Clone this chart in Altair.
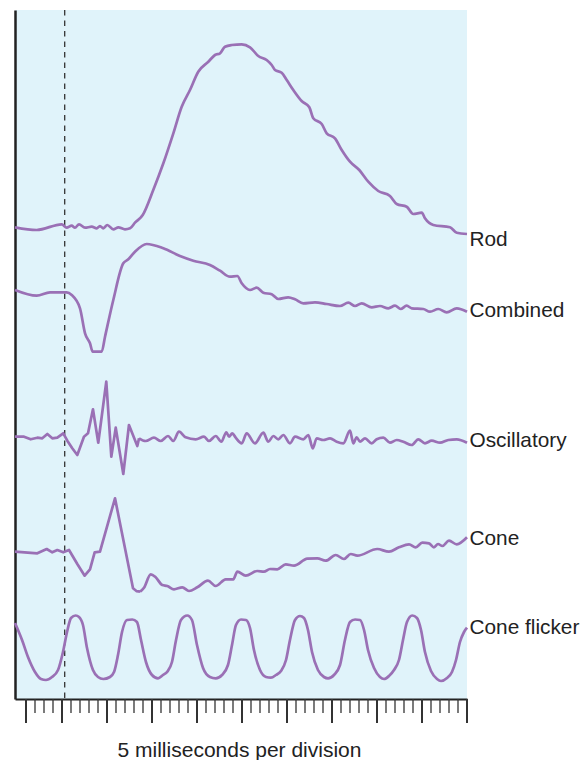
import altair as alt
import pandas as pd

# time in ms (1 division = 5 ms), amplitude in arbitrary display units
rod = [(-5.22, 471.7), (-2.81, 469), (-0.03, 474.7), (0.52, 471.3), (1.08, 473.3), (1.44, 471.3),
       (1.89, 474.7), (2.56, 471.3), (3.3, 472.3), (3.86, 470.7), (4.22, 473), (4.59, 470.7),
       (5.03, 474), (5.7, 469.7), (6.26, 471.7), (7.0, 469.7), (7.56, 470.7), (8.11, 476.3),
       (8.97, 484), (10.14, 509), (11.26, 535.7), (12.37, 565.7), (13.3, 592.3), (14.22, 609),
       (15.14, 627.3), (16.26, 637.3), (17.0, 644), (17.56, 645.7), (18.11, 652.3), (18.86, 654),
       (19.97, 654.7), (20.89, 651.7), (21.81, 643), (22.74, 639), (23.3, 634), (23.67, 629),
       (24.41, 626.3), (24.97, 619), (25.7, 609), (26.63, 598), (27.48, 591.7), (27.92, 580.7),
       (28.86, 575), (29.41, 565.7), (30.33, 560.7), (31.08, 549), (32.0, 537.3), (33.03, 529),
       (34.03, 517.3), (35.14, 508), (36.44, 503), (37.19, 495), (38.3, 492.3), (39.03, 485),
       (39.97, 486.3), (40.33, 480.7), (41.26, 474), (43.11, 471.7), (43.86, 466.3), (45.0, 465)]

combined = [(-5.22, 409), (-2.81, 403.3), (-1.33, 406.7), (0.52, 406.7), (1.08, 404), (2.0, 390.7),
            (2.56, 365.7), (3.11, 355.7), (3.41, 347.3), (4.41, 347.3), (4.78, 362.3), (5.7, 399),
            (6.81, 435.7), (7.37, 439.7), (8.11, 447.3), (9.41, 455), (11.26, 450.7), (13.11, 443),
            (14.59, 438.3), (16.44, 434), (17.56, 428.3), (18.67, 422.3), (19.48, 423), (19.97, 415.7),
            (20.89, 409), (21.63, 411.3), (22.37, 406.3), (23.3, 404.7), (24.03, 400), (25.14, 401.7),
            (25.89, 399.7), (26.81, 395.7), (28.11, 396.7), (29.41, 395), (30.89, 393), (31.81, 396.3),
            (32.56, 393), (33.3, 395.7), (34.41, 391.7), (35.33, 393), (36.26, 390.7), (37.0, 393.3),
            (37.63, 390), (38.3, 393.3), (38.86, 390.7), (40.14, 390), (40.89, 387.3), (41.81, 390),
            (42.74, 386.7), (43.86, 390.7), (45.0, 387.3)]

oscillatory = [(-5.22, 262.3), (-4.22, 262.3), (-3.48, 259.7), (-2.74, 261.3), (-2.19, 260.7),
               (-1.63, 265), (-1.08, 260.7), (-0.52, 261.3), (0.14, 265.7), (0.59, 258.3),
               (1.14, 250.7), (1.7, 244), (2.44, 262.3), (2.89, 265.7), (3.44, 289.7), (4.03, 256.3),
               (4.92, 317.3), (5.48, 242.3), (5.97, 271.3), (6.81, 225), (7.44, 274), (8.37, 253),
               (8.56, 260.7), (9.3, 258), (10.22, 261.3), (10.97, 258), (11.78, 263), (12.37, 258),
               (13.0, 267.3), (13.74, 261.7), (14.86, 259.7), (15.78, 262.3), (16.33, 258), (17.08, 263),
               (17.7, 257.3), (18.26, 266.7), (18.56, 262.3), (18.92, 265.7), (19.3, 261.3),
               (19.97, 255.7), (20.52, 265.7), (21.44, 255.7), (22.37, 266.3), (22.92, 257.3),
               (23.48, 263), (24.03, 259.7), (24.59, 264), (25.33, 255.7), (25.89, 262.3),
               (26.81, 259.7), (27.37, 264), (27.86, 250.7), (28.3, 260.7), (29.03, 259),
               (29.78, 260.7), (30.52, 257.3), (31.26, 255.7), (32.0, 268.3), (32.37, 255.7),
               (32.74, 261.7), (33.11, 257.3), (33.67, 260.7), (34.41, 255.7), (34.97, 259.7),
               (35.7, 261.3), (36.44, 256.3), (37.19, 259), (37.92, 257.3), (38.86, 254),
               (39.59, 259.7), (40.33, 255.7), (41.08, 258.3), (42.0, 256.3), (42.92, 259),
               (43.86, 259.7), (45.0, 256.3)]

cone = [(-5.22, 147.3), (-2.74, 145.7), (-1.7, 150), (-1.08, 146.7), (-0.52, 149), (0.14, 146.7),
        (0.78, 149), (1.7, 135), (2.52, 123.3), (3.11, 129.7), (3.63, 146.7), (4.22, 147.3),
        (5.89, 200.7), (7.89, 110.7), (8.3, 107.8), (8.67, 107.3), (9.11, 111.3), (9.86, 124.7),
        (10.41, 121.7), (11.14, 114),
        (11.7, 113), (12.44, 109.7), (13.37, 111.7), (14.11, 108), (15.03, 111.7), (16.22, 118.3),
        (17.08, 113), (18.19, 119.7), (19.03, 119.7), (19.48, 127.3), (20.41, 123.3), (21.7, 128),
        (22.44, 127.3), (23.11, 130), (23.92, 129.7), (24.86, 134.7), (25.78, 133.3), (27.26, 140.3),
        (28.37, 140.7), (29.3, 138.3), (30.41, 144), (31.33, 140), (32.08, 145), (32.81, 143.3),
        (35.03, 150), (36.33, 147.3), (37.44, 151.7), (38.56, 154.7), (39.3, 151.7), (40.03, 156.3),
        (40.78, 155.7), (41.33, 151.7), (41.78, 155), (42.26, 153), (43.0, 158.3), (43.86, 154.7),
        (45.0, 161.7)]

cone_flicker = [(-5.22, 76), (-4.44, 59), (-3.78, 42), (-3.0, 27), (-2.33, 20), (-1.78, 19),
                (-1.11, 22), (-0.44, 29), (0.11, 47), (0.56, 67), (1.0, 81), (1.52, 83.5), (1.89, 82),
                (2.33, 74), (2.78, 51), (3.44, 29), (4.0, 22), (4.59, 20), (5.33, 22), (5.78, 27),
                (6.22, 44), (6.67, 67), (7.22, 79), (7.81, 79.5), (8.33, 77), (8.78, 59), (9.33, 37),
                (10.0, 24), (10.67, 20.7), (11.22, 24), (11.7, 27.3), (12.22, 37), (12.67, 59),
                (13.22, 79), (13.92, 83.5), (14.44, 79), (15.0, 54), (15.67, 31), (16.44, 22),
                (17.08, 20.7), (17.78, 24), (18.44, 34), (18.89, 54), (19.33, 74), (19.89, 79.5),
                (20.44, 79), (20.89, 71), (21.33, 49), (22.0, 29), (22.67, 22), (23.22, 21.3),
                (23.78, 24), (24.33, 28), (24.89, 39), (25.33, 59), (25.89, 79), (26.44, 83),
                (26.89, 81), (27.33, 69), (27.78, 47), (28.44, 29), (29.11, 22), (29.56, 20.7),
                (30.22, 24), (30.89, 34), (31.44, 59), (32.0, 77), (32.56, 79.5), (33.11, 79),
                (33.56, 69), (34.0, 49), (34.67, 31), (35.33, 22), (35.78, 20), (36.33, 23),
                (36.89, 29), (37.44, 39), (37.89, 59), (38.33, 77), (38.92, 83.5), (39.44, 81),
                (39.89, 69), (40.33, 47), (41.0, 28), (41.67, 20), (42.11, 18), (42.78, 21),
                (43.33, 27), (43.78, 39), (44.22, 57), (44.67, 67), (45.0, 71.3)]

trace_names = ["Rod", "Combined", "Oscillatory", "Cone", "Cone flicker"]
label_levels = [460.5, 389.5, 260, 162, 73]
# end of the sharp, fast-response part of each trace (ms); drawn with straight segments
sharp_until = {"Oscillatory": 8.56, "Cone": 8.67}
stimulus_ms = [0.3]
major_ticks = [-4, 0, 5, 10, 15, 20, 25, 30, 35, 40, 45]
minor_ticks = [t for t in range(-4, 46) if t not in major_ticks]
x_title = "5 milliseconds per division"

PURPLE = "#9a70b5"
FONT = "Liberation Sans"

series = dict(zip(trace_names, [rod, combined, oscillatory, cone, cone_flicker]))
smooth_rows, sharp_rows = [], []
for name, pts in series.items():
    cut = sharp_until.get(name)
    for t, v in pts:
        if cut is None or t >= cut:
            smooth_rows.append({"trace": name, "t": t, "v": v})
        if cut is not None and t <= cut:
            sharp_rows.append({"trace": name, "t": t, "v": v})
smooth_df = pd.DataFrame(smooth_rows)
sharp_df = pd.DataFrame(sharp_rows)

labels_df = pd.DataFrame({"trace": trace_names, "v": label_levels, "t": [45.0] * 5})
stim_df = pd.DataFrame({"t": stimulus_ms})
major_df = pd.DataFrame({"t": major_ticks})
minor_df = pd.DataFrame({"t": minor_ticks})

xscale = alt.Scale(domain=[-5.2222, 45], nice=False, zero=False)
yscale = alt.Scale(domain=[0, 689], nice=False, zero=False)

x_enc = alt.X("t:Q", scale=xscale,
              axis=alt.Axis(title=x_title, domain=True, domainColor="#222", domainWidth=2,
                            ticks=False, labels=False, grid=False,
                            titleFont=FONT, titleFontSize=21, titleFontWeight="normal",
                            titleColor="#222", titleBaseline="alphabetic",
                            titleY=57.7, titleX=224))
y_enc = alt.Y("v:Q", scale=yscale,
              axis=alt.Axis(title=None, domain=True, domainColor="#222", domainWidth=2.5,
                            ticks=False, labels=False, grid=False))

smooth = alt.Chart(smooth_df).mark_line(color=PURPLE, strokeWidth=2.7, interpolate="monotone").encode(
    x=x_enc, y=y_enc, detail="trace:N")
sharp_lines = alt.Chart(sharp_df).mark_line(color=PURPLE, strokeWidth=2.7, interpolate="linear",
                                            strokeJoin="round").encode(
    x=alt.X("t:Q", scale=xscale), y=alt.Y("v:Q", scale=yscale), detail="trace:N")

stim = alt.Chart(stim_df).mark_rule(color="#333", strokeWidth=1.3, strokeDash=[5.5, 5]).encode(
    x=alt.X("t:Q", scale=xscale), y=alt.value(0), y2=alt.value(689))

minor = alt.Chart(minor_df).mark_rule(color="#333", strokeWidth=1.3).encode(
    x=alt.X("t:Q", scale=xscale), y=alt.value(689), y2=alt.value(703))
major = alt.Chart(major_df).mark_rule(color="#333", strokeWidth=2).encode(
    x=alt.X("t:Q", scale=xscale), y=alt.value(689), y2=alt.value(713))

labels = alt.Chart(labels_df).mark_text(align="left", baseline="middle", dx=2.5, dy=1.5,
                                        font=FONT, fontSize=20.8, color="#222").encode(
    x=alt.X("t:Q", scale=xscale), y=alt.Y("v:Q", scale=yscale), text="trace:N")

chart = alt.layer(stim, smooth, sharp_lines, minor, major, labels).properties(
    width=452, height=689,
    autosize=alt.AutoSizeParams(type="none"),
    padding={"left": 7, "top": 2, "right": 113, "bottom": 63},
).configure_view(fill="#e0f3fa", strokeWidth=0)

chart.save("out.html", embed_options={"renderer": "svg", "actions": False})
